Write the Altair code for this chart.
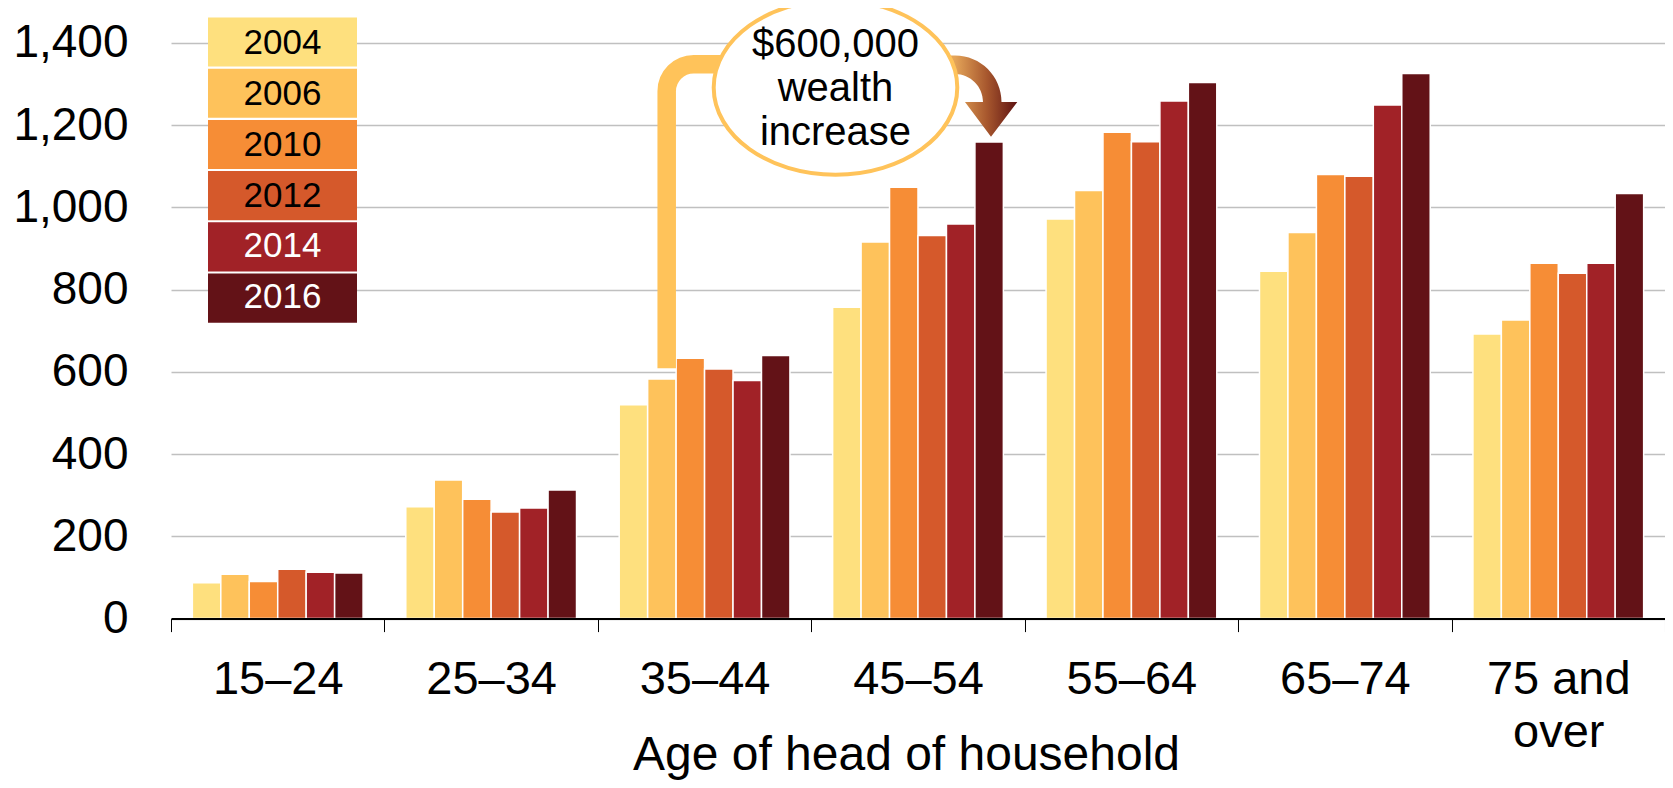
import altair as alt
import pandas as pd

# ---- data (thousands of dollars) ----
ages = ["15–24", "25–34", "35–44", "45–54", "55–64", "65–74", "75 and over"]
years = ["2004", "2006", "2010", "2012", "2014", "2016"]
v2004 = [87, 272, 520, 757, 972, 845, 692]
v2006 = [108, 337, 583, 916, 1041, 939, 726]
v2010 = [90, 290, 633, 1049, 1183, 1080, 864]
v2012 = [120, 259, 607, 932, 1160, 1076, 840]
v2014 = [113, 269, 579, 960, 1259, 1249, 864]
v2016 = [111, 313, 640, 1159, 1304, 1326, 1034]
y_ticks = [0, 200, 400, 600, 800, 1000, 1200, 1400]
annotation_lines = ["$600,000", "wealth", "increase"]

# ---- styles ----
colors = ["#FEE07E", "#FEC25B", "#F68D36", "#D5592B", "#A12227", "#631217"]
legend_text_colors = ["black", "black", "black", "black", "white", "white"]
FONT = "Liberation Sans"
W, H = 1494, 575.6

series = [v2004, v2006, v2010, v2012, v2014, v2016]
rows = []
for yr, vals in zip(years, series):
    for a, v in zip(ages, vals):
        rows.append({"age": a, "year": yr, "value": v})
df = pd.DataFrame(rows)

color_scale = alt.Scale(domain=years, range=colors)

bars = alt.Chart(df).mark_bar(stroke="white", strokeWidth=1.5).encode(
    x=alt.X(
        "age:N", sort=ages,
        scale=alt.Scale(paddingInner=0, paddingOuter=0),
        axis=alt.Axis(
            title="Age of head of household", tickBand="extent", ticks=True,
            tickSize=13, tickColor="black", tickWidth=1,
            domainColor="black", domainWidth=2, grid=False, zindex=1,
            labelAngle=0, labelFontSize=47, labelFont=FONT, labelColor="black",
            labelPadding=25, labelLineHeight=53, labelLimit=400,
            labelExpr="datum.value == '75 and over' ? ['75 and', 'over'] : datum.label",
            titleFontSize=48, titleFont=FONT, titleFontWeight="normal", titleColor="black",
            titleX=735, titleY=151, titleBaseline="alphabetic", titleAlign="center",
        ),
    ),
    xOffset=alt.XOffset("year:N", sort=years,
                        scale=alt.Scale(paddingInner=0, paddingOuter=0.75)),
    y=alt.Y(
        "value:Q", scale=alt.Scale(domain=[0, 1400], nice=False),
        axis=alt.Axis(
            values=y_ticks, format=",d", title=None, grid=True,
            gridColor="#C0C0C0", gridWidth=1.5, domain=False, ticks=False, tickSize=0,
            labelFontSize=46, labelFont=FONT, labelColor="black", labelPadding=43,
        ),
    ),
    color=alt.Color("year:N", scale=color_scale, legend=None),
)

# ---- legend built as marks ----
leg_df = pd.DataFrame({"year": years, "tc": legend_text_colors})
leg_y = alt.Y("year:N", sort=years,
              scale=alt.Scale(range=[-25.6, 279.8], paddingInner=0.04, paddingOuter=0),
              axis=None)
leg_rect = alt.Chart(leg_df).mark_rect().encode(
    x=alt.value(37), x2=alt.value(186), y=leg_y,
    color=alt.Color("year:N", scale=color_scale, legend=None),
)
leg_text = alt.Chart(leg_df).mark_text(fontSize=35, font=FONT, align="center",
                                        baseline="middle").encode(
    x=alt.value(111.5), y=leg_y, text="year:N",
    color=alt.Color("tc:N", scale=None),
)

# ---- annotation ----
one = pd.DataFrame({"k": [0]})
conn_path = "M0,304 L0,27 A27,27 0 0,1 27,0 L60,0"
connector = alt.Chart(one).mark_point(
    shape=conn_path, size=4, filled=False, stroke="#FFC35A",
    strokeWidth=18.5, opacity=1,
).encode(x=alt.value(495.7), y=alt.value(21.2))

arrow_path = ("M-40,-46.5 L0,-46.5 A46.5,46.5 0 0,1 46.5,0 L62.3,0 L36,34.7 "
              "L10,0 L28,0 A28,28 0 0,0 0,-28 L-40,-28 Z")
arrow_fill = alt.LinearGradient(
    gradient="linear", x1=0, y1=0, x2=1, y2=0,
    stops=[alt.GradientStop(color="#F5BC62", offset=0),
           alt.GradientStop(color="#E4A458", offset=0.39),
           alt.GradientStop(color="#A8582E", offset=0.7),
           alt.GradientStop(color="#5E1212", offset=1)],
)
arrow = alt.Chart(one).mark_point(
    shape=arrow_path, size=4, filled=True, fill=arrow_fill, strokeWidth=0, opacity=1,
).encode(x=alt.value(784), y=alt.value(59.1))

ell_path = "M-121.8,0 A121.8,87.3 0 1,1 121.8,0 A121.8,87.3 0 1,1 -121.8,0 Z"
ellipse = alt.Chart(one).mark_point(
    shape=ell_path, size=4, filled=True, fill="white", stroke="#FFC35A",
    strokeWidth=4, opacity=1,
).encode(x=alt.value(664.5), y=alt.value(44.4))

ann_text = alt.Chart(one).mark_text(
    text=annotation_lines, fontSize=40, font=FONT, align="center",
    baseline="alphabetic", lineHeight=44, color="black",
).encode(x=alt.value(664.5), y=alt.value(14.4))

chart = alt.layer(
    bars, leg_rect, leg_text, connector, arrow, ellipse, ann_text
).resolve_scale(y="independent").properties(
    width=W, height=H,
    autosize=alt.AutoSizeParams(type="none"),
    padding={"left": 163, "top": 35, "right": 0, "bottom": 166},
).configure_view(stroke=None)

chart.save("out.html", embed_options={"renderer": "svg", "actions": False})
